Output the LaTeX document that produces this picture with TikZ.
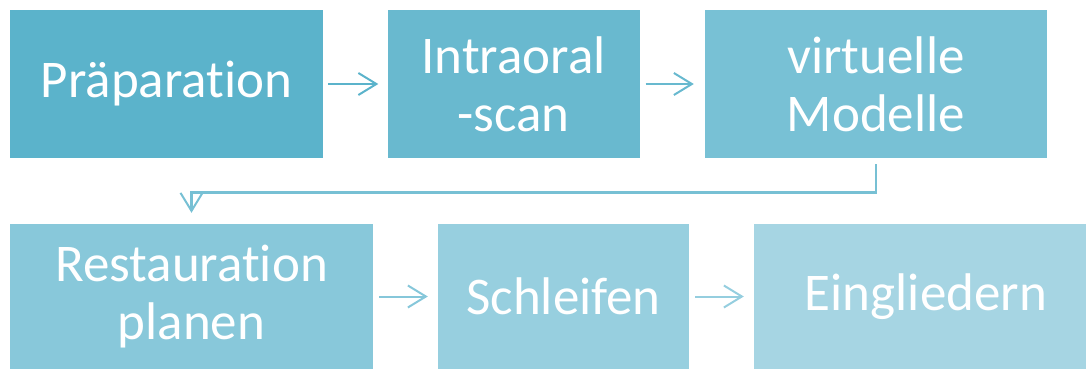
\documentclass[tikz,border=0pt]{standalone}
\usepackage{fontspec}
\setmainfont[Ligatures=NoCommon]{Carlito}
\usetikzlibrary{arrows.meta}
\definecolor{c1}{HTML}{5BB3CB}
\definecolor{c2}{HTML}{69B9CF}
\definecolor{c3}{HTML}{78C1D5}
\definecolor{c4}{HTML}{88C8DA}
\definecolor{c5}{HTML}{97CFDF}
\definecolor{c6}{HTML}{A6D5E3}
\tikzset{
  box/.style={rectangle, inner sep=0pt, text=white, align=center,
    font=\fontsize{53}{58}\selectfont},
  conn/.style={line width=2pt, -{Straight Barb[length=18pt,width=22pt,line width=2pt]}}
}
\begin{document}
\begin{tikzpicture}[x=1pt,y=-1pt]
\useasboundingbox (0,0) rectangle (1086,369);
\node[box, fill=c1, minimum width=313pt, minimum height=148pt] (b1) at (166.5,84) {Präparation};
\node[box, fill=c2, minimum width=252pt, minimum height=148pt] (b2) at (513.5,84) {Intraoral\\-scan};
\node[box, fill=c3, minimum width=342pt, minimum height=148pt] (b3) at (876,84) {virtuelle\\Modelle};
\node[box, fill=c4, minimum width=363pt, minimum height=145pt] (b4) at (191.5,296.5) {Restauration\\planen};
\node[box, fill=c5, minimum width=251pt, minimum height=145pt] (b5) at (563.5,296.5) {Schleifen};
\node[box, fill=c6, minimum width=332pt, minimum height=145pt] (b6) at (920,296.5) {\hspace*{12pt}Eingliedern};
\draw[conn, c1, shorten <=5pt, shorten >=9pt] (b1.east) -- (b2.west);
\draw[conn, c2!95!c1, shorten <=6pt, shorten >=11pt] (b2.east) -- (b3.west);
\draw[conn, c3!90!c2, line width=2.6pt, shorten <=6pt, shorten >=11pt] (b3.south) -- ++(0,34) -| (b4.north);
\draw[conn, c4!90!c3, shorten <=6pt, shorten >=10pt] (b4.east) -- (b5.west);
\draw[conn, c5!90!c4, shorten <=6pt, shorten >=10pt] (b5.east) -- (b6.west);
\end{tikzpicture}
\end{document}
